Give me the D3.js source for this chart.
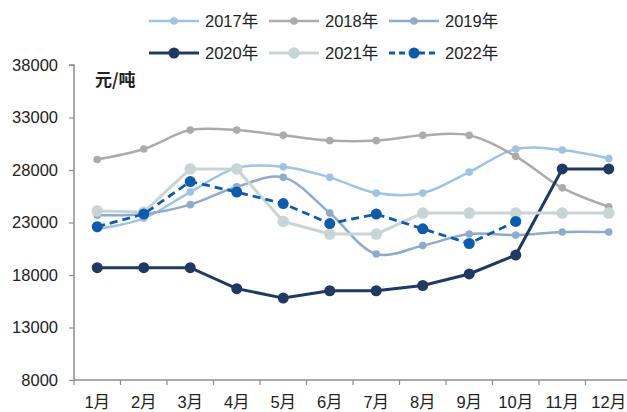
<!DOCTYPE html>
<html>
<head>
<meta charset="utf-8">
<script src="https://cdn.jsdelivr.net/npm/d3@7"></script>
<style>
  body { margin: 0; background: #fff; }
  svg text { font-family: "Liberation Sans Narrow", "Liberation Sans", Arial, "Noto Sans CJK SC", sans-serif; fill: #222; }
</style>
</head>
<body>
<svg id="chart" width="627" height="412"></svg>
<script>
// data
const months = ["1月", "2月", "3月", "4月", "5月", "6月", "7月", "8月", "9月", "10月", "11月", "12月"];
const yTicks = [8000, 13000, 18000, 23000, 28000, 33000, 38000];
const seriesNames = ["2017年", "2018年", "2019年", "2020年", "2021年", "2022年"];
const y2017 = [22400, 23400, 25900, 28200, 28300, 27300, 25800, 25800, 27800, 30000, 29900, 29100];
const y2018 = [29000, 30000, 31800, 31800, 31300, 30800, 30800, 31300, 31300, 29300, 26300, 24500];
const y2019 = [23700, 23800, 24700, 26400, 27300, 23900, 20000, 20800, 21900, 21800, 22100, 22100];
const y2020 = [18700, 18700, 18700, 16700, 15800, 16500, 16500, 17000, 18100, 19900, 28100, 28100];
const y2021 = [24100, 24000, 28100, 28100, 23100, 21900, 21900, 23900, 23900, 23900, 23900, 23900];
const y2022 = [22600, 23800, 26900, 25900, 24800, 22900, 23800, 22400, 21000, 23100];

const svg = d3.select("svg#chart");
const margin = { top: 65, left: 74, bottom: 380, right: 632 };

const styles = [
  { color: "#9dc3e6", width: 2.5, r: 3.8, smooth: true, dash: null },
  { color: "#aeaaaa", width: 2.5, r: 3.8, smooth: true, dash: null },
  { color: "#8eaacd", width: 2.5, r: 3.8, smooth: true, dash: null },
  { color: "#1f3864", width: 3, r: 5.5, smooth: false, dash: null },
  { color: "#c7d6d4", width: 3, r: 5.8, smooth: false, dash: null },
  { color: "#0b5cb0", width: 2.8, r: 5.5, smooth: false, dash: "8,5" }
];
const allData = [y2017, y2018, y2019, y2020, y2021, y2022];

const x = d3.scaleBand().domain(months).range([margin.left, margin.right]);
const y = d3.scaleLinear().domain([8000, 38000]).range([margin.bottom, margin.top]);

// y axis
const yAxis = d3.axisLeft(y).tickValues(yTicks).tickSize(5).tickFormat(d3.format("d"));
const yg = svg.append("g")
  .attr("transform", `translate(${margin.left},0)`)
  .call(yAxis);
yg.select(".domain").attr("stroke", "#8c8c8c").attr("stroke-width", 1.5).attr("d", `M-5,${y(38000)}H0V${y(8000)}`);
yg.selectAll(".tick line").attr("stroke", "#8c8c8c").attr("stroke-width", 1.2);
yg.selectAll(".tick text").attr("x", -16).attr("font-size", 16.5).attr("fill", "#222");

// x axis with ticks on category boundaries
const xg = svg.append("g").attr("transform", `translate(0,${margin.bottom})`);
xg.append("line")
  .attr("x1", margin.left).attr("x2", margin.right)
  .attr("stroke", "#8c8c8c").attr("stroke-width", 1.5);
xg.selectAll("line.tk")
  .data(months)
  .join("line")
  .attr("class", "tk")
  .attr("x1", (d) => x(d)).attr("x2", (d) => x(d))
  .attr("y1", 0).attr("y2", 5)
  .attr("stroke", "#8c8c8c").attr("stroke-width", 1.2);
xg.selectAll("text")
  .data(months)
  .join("text")
  .attr("x", (d) => x(d) + x.bandwidth() / 2)
  .attr("y", 28)
  .attr("text-anchor", "middle")
  .attr("font-size", 16.5)
  .text((d) => d);

// unit label
svg.append("text")
  .attr("x", 95).attr("y", 86)
  .attr("font-size", 17).attr("font-weight", "bold")
  .style("font-family", "'Noto Sans CJK SC', sans-serif")
  .text("元/吨");

// lines
const cx = (d, i) => x(months[i]) + x.bandwidth() / 2;
allData.forEach((vals, k) => {
  const st = styles[k];
  const line = d3.line()
    .x((d, i) => cx(d, i))
    .y((d) => y(d))
    .curve(st.smooth ? d3.curveCatmullRom.alpha(0.5) : d3.curveLinear);
  const g = svg.append("g").attr("class", "series");
  g.append("path")
    .datum(vals)
    .attr("fill", "none")
    .attr("stroke", st.color)
    .attr("stroke-width", st.width)
    .attr("stroke-dasharray", st.dash)
    .attr("d", line);
  g.selectAll("circle")
    .data(vals)
    .join("circle")
    .attr("cx", (d, i) => cx(d, i))
    .attr("cy", (d) => y(d))
    .attr("r", st.r)
    .attr("fill", st.color);
});

// legend
const legend = svg.selectAll(".legendItem")
  .data(seriesNames)
  .join("g")
  .attr("class", "legendItem")
  .attr("transform", (d, i) => `translate(${149 + (i % 3) * 120},${i < 3 ? 21 : 53})`);
legend.append("line")
  .attr("x1", 0).attr("x2", 50)
  .attr("stroke", (d, i) => styles[i].color)
  .attr("stroke-width", (d, i) => styles[i].width)
  .attr("stroke-dasharray", (d, i) => (styles[i].dash ? "6,4" : null));
legend.append("circle")
  .attr("cx", 25)
  .attr("r", (d, i) => styles[i].r)
  .attr("fill", (d, i) => styles[i].color);
legend.append("text")
  .attr("x", 56).attr("y", 6)
  .attr("font-size", 16.5)
  .text((d) => d);
</script>
</body>
</html>
